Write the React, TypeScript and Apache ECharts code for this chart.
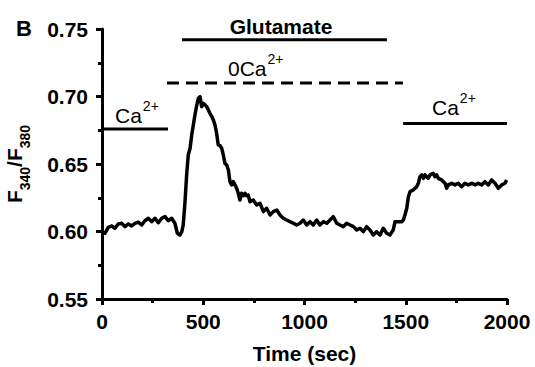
import React, { useEffect, useRef } from 'react';
import * as echarts from 'echarts';

// Trace: [time (sec), F340/F380]
const baselinePhase = [
  [0, 0.6], [15, 0.5987], [31, 0.6031], [48, 0.6041], [64, 0.6024], [80, 0.6056], [97, 0.6061],
  [114, 0.6036], [130, 0.6056], [147, 0.6041], [163, 0.6061], [179, 0.607], [196, 0.6048],
  [212, 0.608], [229, 0.6098], [245, 0.6073], [262, 0.6098], [278, 0.6065], [295, 0.6098],
  [311, 0.611], [327, 0.608], [344, 0.6098], [360, 0.6061], [372, 0.5987], [385, 0.5974], [394, 0.5999],
];
const glutamatePhase = [
  [401, 0.6048], [410, 0.6221], [418, 0.6419], [426, 0.6567], [435, 0.6617], [443, 0.6715],
  [451, 0.6789], [459, 0.6863], [468, 0.6937], [476, 0.6987], [484, 0.6999], [492, 0.6925],
  [500, 0.695], [509, 0.6937], [517, 0.6925], [525, 0.69], [533, 0.6876], [542, 0.6851],
  [550, 0.6826], [558, 0.6789], [566, 0.6728], [574, 0.6641], [583, 0.6636], [591, 0.6617],
  [599, 0.6567], [607, 0.6505], [616, 0.6493], [624, 0.6456], [632, 0.6369], [640, 0.6345],
  [648, 0.6369], [657, 0.6345], [665, 0.632], [673, 0.6283], [681, 0.6233], [689, 0.6283],
  [698, 0.6265], [706, 0.6283], [714, 0.6265], [722, 0.627], [731, 0.6221], [747, 0.6233],
  [764, 0.6196], [780, 0.6209], [797, 0.6147], [813, 0.6172], [830, 0.6122], [846, 0.6147],
  [863, 0.6159], [879, 0.6122], [895, 0.6098], [912, 0.6085], [928, 0.6073], [945, 0.6061],
  [961, 0.6048], [978, 0.6061], [994, 0.6085], [1011, 0.6048], [1027, 0.6073], [1043, 0.6048],
  [1060, 0.6085], [1076, 0.6048], [1093, 0.6073], [1110, 0.6061], [1126, 0.6085], [1142, 0.611],
  [1159, 0.6061], [1175, 0.6048], [1192, 0.6036], [1208, 0.6061], [1225, 0.6048], [1242, 0.6036],
  [1258, 0.6011], [1274, 0.6024], [1290, 0.5999], [1307, 0.6036], [1323, 0.6011], [1340, 0.5974],
  [1356, 0.5999], [1373, 0.5974], [1389, 0.6024], [1406, 0.5987], [1422, 0.5974], [1438, 0.6011],
];
const recoveryPhase = [
  [1447, 0.6073], [1463, 0.6073], [1480, 0.6073], [1488, 0.6085], [1496, 0.6122], [1505, 0.6172],
  [1513, 0.6258], [1521, 0.6295], [1537, 0.6307], [1554, 0.6332], [1562, 0.6357], [1570, 0.6406],
  [1579, 0.6419], [1587, 0.6394], [1595, 0.6419], [1603, 0.6406], [1611, 0.6394], [1620, 0.6419],
  [1636, 0.6431], [1644, 0.6406], [1653, 0.6419], [1661, 0.6394], [1677, 0.6382], [1694, 0.6357],
  [1702, 0.632], [1710, 0.6345], [1727, 0.6357], [1743, 0.6345], [1759, 0.6357], [1776, 0.6332],
  [1792, 0.6357], [1809, 0.6345], [1826, 0.6357], [1842, 0.6345], [1858, 0.6357], [1875, 0.6345],
  [1891, 0.6369], [1908, 0.6345], [1924, 0.6382], [1941, 0.6357], [1957, 0.632], [1974, 0.6345],
  [1990, 0.6357], [1998, 0.6382],
];

// Condition bars: [start, end] in sec and level
const ca1Bar = [[0, 0.676], [326, 0.676]];
const glutamateBar = [[395, 0.742], [1407, 0.742]];
const zeroCaBar = [[321, 0.71], [1486, 0.71]];
const ca2Bar = [[1487, 0.68], [2000, 0.68]];

const xTicks = [0, 500, 1000, 1500, 2000];
const yTicks = [0.55, 0.6, 0.65, 0.7, 0.75];

const FONT = '"Liberation Sans", Arial, sans-serif';

export default function App() {
  const ref = useRef<HTMLDivElement>(null);
  useEffect(() => {
    document.body.style.margin = '0';
    const chart = echarts.init(ref.current!, null, { renderer: 'svg' });
    const trace = [...baselinePhase, ...glutamatePhase, ...recoveryPhase];
    const barSeries = (data: number[][], dashed = false) => ({
      type: 'line',
      data,
      symbol: 'none',
      clip: false,
      silent: true,
      lineStyle: { color: '#000', width: 3, type: dashed ? [12, 7] : 'solid', cap: 'butt' },
    });
    const supRich = {
      b: { fontSize: 21, fontFamily: FONT, fontWeight: 'normal', color: '#000', lineHeight: 30, verticalAlign: 'bottom' },
      s: { fontSize: 14, fontFamily: FONT, fontWeight: 'normal', color: '#000', lineHeight: 14, verticalAlign: 'top', padding: [3, 0, 0, 1] },
    };
    const supText = (x: number, y: number, main: string) => ({
      type: 'text',
      x,
      y,
      style: { text: `{b|${main}}{s|2+}`, rich: supRich, align: 'left', verticalAlign: 'top' },
    });
    chart.setOption({
      animation: false,
      backgroundColor: '#fff',
      grid: { left: 102, top: 29, right: 28, bottom: 68, containLabel: false, outerBoundsMode: 'none' },
      xAxis: {
        type: 'value',
        min: xTicks[0],
        max: xTicks[xTicks.length - 1],
        interval: 500,
        name: 'Time (sec)',
        nameLocation: 'middle',
        nameGap: 44,
        nameTextStyle: { fontSize: 21, fontWeight: 'bold', fontFamily: FONT, color: '#000' },
        axisLine: { lineStyle: { color: '#000', width: 3 } },
        axisTick: { show: true, inside: false, length: 6, lineStyle: { color: '#000', width: 3 } },
        minorTick: { show: true, splitNumber: 2, length: 4, lineStyle: { color: '#000', width: 3 } },
        splitLine: { show: false },
        axisLabel: {
          fontSize: 21, fontWeight: 'bold', fontFamily: FONT, color: '#000', margin: 12,
          formatter: (v: number) => String(v),
        },
      },
      yAxis: {
        type: 'value',
        min: yTicks[0],
        max: yTicks[yTicks.length - 1],
        interval: 0.05,
        name: '{m|F}{sub|340}{m|/F}{sub|380}',
        nameLocation: 'middle',
        nameGap: 70,
        nameRotate: 90,
        nameTextStyle: {
          rich: {
            m: { fontSize: 21, fontWeight: 'bold', fontFamily: FONT, color: '#000', lineHeight: 28, verticalAlign: 'top' },
            sub: { fontSize: 14, fontWeight: 'bold', fontFamily: FONT, color: '#000', lineHeight: 14, verticalAlign: 'bottom' },
          },
        },
        axisLine: { show: true, lineStyle: { color: '#000', width: 3 } },
        axisTick: { show: true, inside: false, length: 6, lineStyle: { color: '#000', width: 3 } },
        minorTick: { show: true, splitNumber: 2, length: 4, lineStyle: { color: '#000', width: 3 } },
        splitLine: { show: false },
        axisLabel: {
          fontSize: 21, fontWeight: 'bold', fontFamily: FONT, color: '#000', margin: 14,
          formatter: (v: number) => v.toFixed(2),
        },
      },
      graphic: [
        { type: 'text', x: 16, y: 17, style: { text: 'B', fontSize: 22, fontWeight: 'bold', fontFamily: FONT, fill: '#000' } },
        { type: 'text', x: 281, y: 16, style: { text: 'Glutamate', fontSize: 21, fontWeight: 'bold', fontFamily: FONT, fill: '#000', align: 'center' } },
        supText(115, 96, 'Ca'),
        supText(228, 49, '0Ca'),
        supText(432, 88, 'Ca'),
      ],
      series: [
        {
          type: 'line',
          data: trace,
          symbol: 'none',
          lineStyle: { color: '#000', width: 3.5, join: 'round' },
        },
        barSeries(ca1Bar),
        barSeries(glutamateBar),
        barSeries(zeroCaBar, true),
        barSeries(ca2Bar),
      ],
    });
    return () => chart.dispose();
  }, []);
  return <div ref={ref} style={{ width: 535, height: 367 }} />;
}
